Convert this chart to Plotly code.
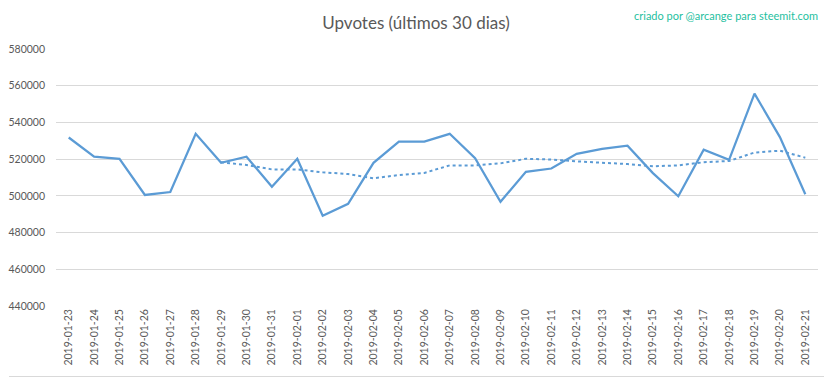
import plotly.graph_objects as go

dates = ["2019-01-23", "2019-01-24", "2019-01-25", "2019-01-26", "2019-01-27", "2019-01-28",
         "2019-01-29", "2019-01-30", "2019-01-31", "2019-02-01", "2019-02-02", "2019-02-03",
         "2019-02-04", "2019-02-05", "2019-02-06", "2019-02-07", "2019-02-08", "2019-02-09",
         "2019-02-10", "2019-02-11", "2019-02-12", "2019-02-13", "2019-02-14", "2019-02-15",
         "2019-02-16", "2019-02-17", "2019-02-18", "2019-02-19", "2019-02-20", "2019-02-21"]

upvotes = [531800, 521400, 520200, 500500, 502100, 533800, 518000, 521300, 505000, 520200,
           489200, 495700, 518000, 529600, 529600, 533800, 520500, 496800, 513100, 514900,
           522900, 525600, 527300, 512400, 499800, 525100, 519600, 555700, 532000, 500900]

# 7-day moving average trendline (dotted); starts on 2019-01-29
trend_dates = dates[6:]
trend = [518300, 516800, 514400, 514400, 512800, 511900, 509600, 511300, 512500, 516600,
         516600, 517700, 520200, 519800, 518800, 518200, 517300, 516100, 516600, 518300,
         519000, 523600, 524600, 520800]

y_ticks = [440000, 460000, 480000, 500000, 520000, 540000, 560000, 580000]

title_text = "Upvotes (últimos 30 dias)"
credit_text = "criado por @arcange para steemit.com"

LINE = "#5b9bd5"
GRAY = "#595959"
FONT = "Lato, 'Open Sans', sans-serif"

fig = go.Figure()
fig.add_trace(go.Scatter(x=dates, y=upvotes, mode="lines",
                         line=dict(color=LINE, width=2.25), hoverinfo="skip",
                         showlegend=False))
fig.add_trace(go.Scatter(x=trend_dates, y=trend, mode="lines",
                         line=dict(color=LINE, width=2, dash="dot"), hoverinfo="skip",
                         showlegend=False))

# the page body has an 8px margin; the figure is sized to fill the rest of the window
OFF = 8
W, H = 832 - OFF, 379 - OFF
ml, mt = 56 - OFF, 49 - OFF
pw, ph = 762, 257
mr, mb = W - ml - pw, H - mt - ph

def px(x):  # page x -> paper coords
    return (x - OFF - ml) / pw

def py(y):  # page y -> paper coords
    return (mt + ph - (y - OFF)) / ph

fig.update_layout(
    width=W, height=H,
    margin=dict(l=ml, r=mr, t=mt, b=mb, pad=0),
    paper_bgcolor="white", plot_bgcolor="white",
    font=dict(family=FONT, color=GRAY),
    title=dict(text=title_text, x=(416 - OFF) / W, xanchor="center",
               y=1 - (23 - OFF) / H, yanchor="middle",
               font=dict(size=17, color=GRAY, family=FONT)),
    xaxis=dict(type="category", categoryorder="array", categoryarray=dates,
               range=[-0.5, len(dates) - 0.5], tickangle=-90,
               tickfont=dict(size=10.5, color=GRAY), showgrid=False,
               showline=False, ticks="", zeroline=False, automargin=False),
    yaxis=dict(range=[440000, 580000], tickvals=y_ticks,
               ticktext=[str(v) for v in y_ticks],
               tickfont=dict(size=10.5, color=GRAY), showgrid=True,
               gridcolor="#d9d9d9", gridwidth=1, zeroline=False, showline=False,
               ticks="", ticklabelstandoff=10, automargin=False),
    annotations=[dict(text=credit_text, xref="paper", yref="paper",
                      x=px(820), y=py(15), xanchor="right", yanchor="middle",
                      showarrow=False, font=dict(size=11, color="#1fbf9f", family=FONT))],
    shapes=[
        dict(type="line", xref="paper", yref="paper",
             x0=px(829.5), x1=px(829.5), y0=py(9), y1=py(376.5),
             line=dict(color="#d9d9d9", width=1)),
        dict(type="line", xref="paper", yref="paper",
             x0=px(9), x1=px(829.5), y0=py(376.5), y1=py(376.5),
             line=dict(color="#d9d9d9", width=1)),
    ],
)

fig.write_html("out.html")
